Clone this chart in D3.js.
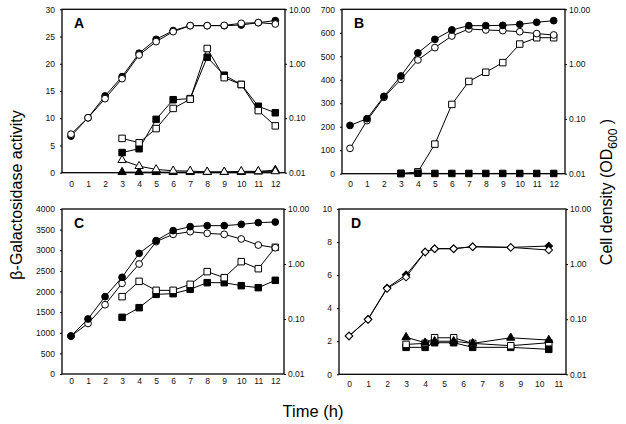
<!DOCTYPE html>
<html>
<head>
<meta charset="utf-8">
<script src="https://cdn.jsdelivr.net/npm/d3@7"></script>
<style>
  body { margin: 0; background: #fff; }
  svg { font-family: "Liberation Sans", Arial, sans-serif; }
</style>
</head>
<body>
<svg id="chart" width="626" height="424"></svg>
<script>
// growth (OD600, right log axis) and beta-galactosidase activity (left axis)
const hours = [0, 1, 2, 3, 4, 5, 6, 7, 8, 9, 10, 11, 12];
const hoursLate = [3, 4, 5, 6, 7, 8, 9, 10, 11, 12];

const odFilledA = [0.047, 0.102, 0.256, 0.58, 1.56, 2.81, 4.06, 5.01, 5.01, 5.0, 5.15, 5.69, 6.2];
const odOpenA = [0.051, 0.102, 0.229, 0.533, 1.45, 2.55, 3.89, 5.01, 5.01, 5.07, 5.53, 5.69, 5.38];
const actOpenSqA = [6.3, 5.5, 8.1, 11.8, 13.5, 22.8, 17.45, 16.2, 11.4, 8.6];
const actFilledSqA = [3.7, 4.4, 9.8, 13.4, 13.6, 21.2, 17.9, 16.2, 12.2, 11.0];
const actOpenTriA = [2.3, 1.2, 0.6, 0.35, 0.3, 0.15, 0.15, 0.25, 0.25, 0.25];
const actFilledTriA = [0.1, 0.1, 0.1, 0.1, 0.1, 0.1, 0.1, 0.1, 0.2, 0.5];

const odFilledB = [0.076, 0.101, 0.258, 0.607, 1.6, 2.83, 4.2, 5.03, 5.03, 5.1, 5.32, 5.8, 6.2];
const odOpenB = [0.029, 0.093, 0.247, 0.527, 1.19, 2.0, 3.26, 4.37, 4.2, 4.08, 3.9, 3.6, 3.4];
const actOpenSqB = [0, 8, 126, 295, 393, 432, 473, 552, 579, 579];
const actFilledSqB = [2, 2, 1, 1, 1, 1, 1, 1, 1, 1];

const odFilledC = [0.049, 0.1, 0.255, 0.573, 1.56, 2.66, 4.04, 4.78, 4.98, 4.98, 5.26, 5.65, 5.8];
const odOpenC = [0.049, 0.083, 0.182, 0.445, 1.0, 2.55, 3.46, 3.87, 3.61, 3.46, 2.85, 2.21, 1.98];
const actOpenSqC = [1875, 2246, 2028, 2028, 2174, 2481, 2335, 2723, 2553, 3071];
const actFilledSqC = [1374, 1608, 1931, 1947, 2053, 2214, 2214, 2141, 2093, 2271];

const hoursD = [0, 1, 2, 3, 4, 4.5, 5.5, 6.5, 8.5, 10.5];
const hoursLateD = [3, 4, 4.5, 5.5, 6.5, 8.5, 10.5];
const odFilledD = [0.0495, 0.1, 0.37, 0.64, 1.66, 1.905, 1.905, 2.07, 2.01, 2.13];
const odOpenD = [0.0495, 0.099, 0.36, 0.58, 1.66, 1.905, 1.905, 2.07, 2.01, 1.8];
const actFilledTriD = [2.24, 1.91, 2.0, 2.0, 1.87, 2.21, 2.07];
const actOpenSqD = [1.81, 1.87, 2.21, 2.21, 1.87, 1.73, 1.91];
const actFilledSqD = [1.63, 1.63, 1.91, 1.91, 1.63, 1.63, 1.51];

const odTicks = [0.01, 0.1, 1, 10];

const svg = d3.select("#chart");

const symbols = {
  circle: { type: d3.symbolCircle, size: 36 },
  square: { type: d3.symbolSquare, size: 42 },
  triangle: { type: d3.symbolTriangle, size: 30 },
  diamond: { type: d3.symbolSquare, size: 28, rotate: 45 },
};

function drawPanel(p) {
  const g = svg.append("g");
  const x = d3.scaleLinear().domain([0, p.xMax]).range(p.xRange);
  const yL = d3.scaleLinear().domain([0, p.yMax]).range([p.y1, p.y0]);
  const yR = d3.scaleLog().domain([0.01, 10]).range([p.y1, p.y0]);

  // frame
  g.append("rect")
    .attr("x", p.x0).attr("y", p.y0)
    .attr("width", p.x1 - p.x0).attr("height", p.y1 - p.y0)
    .attr("fill", "none").attr("stroke", "#000").attr("stroke-width", 1.3);

  const xAxis = g.append("g")
    .attr("transform", `translate(0,${p.y1})`)
    .call(d3.axisBottom(x).tickValues(d3.range(0, p.xMax + 1)).tickSize(0).tickPadding(p.xPad));
  const yAxisL = g.append("g")
    .attr("transform", `translate(${p.x0},0)`)
    .call(d3.axisLeft(yL).tickValues(d3.range(0, p.yMax + p.yStep / 2, p.yStep))
      .tickFormat(d3.format("d")).tickSize(2).tickPadding(5));
  const yAxisR = g.append("g")
    .attr("transform", `translate(${p.x1},0)`)
    .call(d3.axisRight(yR).tickValues(odTicks).tickFormat(d3.format(".2f")).tickSize(2).tickPadding(2));

  [xAxis, yAxisL, yAxisR].forEach((a) => {
    a.select(".domain").remove();
    a.selectAll("text").attr("font-size", 8.5).attr("fill", "#111");
  });

  g.append("text")
    .attr("x", p.x0 + 17).attr("y", p.y0 + 19)
    .attr("text-anchor", "middle")
    .attr("font-size", 14).attr("font-weight", "bold")
    .text(p.label);

  p.series.forEach((s) => {
    const y = s.axis === "od" ? yR : yL;
    const pts = s.t.map((t, i) => [x(t), y(s.v[i])]);
    g.append("path")
      .attr("d", d3.line()(pts))
      .attr("fill", "none").attr("stroke", "#000").attr("stroke-width", 1);
    const sym = symbols[s.shape];
    g.selectAll(null).data(pts).enter().append("path")
      .attr("d", d3.symbol().type(sym.type).size(sym.size))
      .attr("transform", (d) => `translate(${d[0]},${d[1]})` + (sym.rotate ? ` rotate(${sym.rotate})` : ""))
      .attr("fill", s.filled ? "#000" : "#fff")
      .attr("stroke", "#000").attr("stroke-width", 1);
  });
}

drawPanel({
  label: "A", x0: 62, x1: 285, y0: 9.3, y1: 172.7, xRange: [71, 275.3], xMax: 12, xPad: 8,
  yMax: 30, yStep: 5,
  series: [
    { t: hoursLate, v: actFilledTriA, axis: "act", shape: "triangle", filled: true },
    { t: hoursLate, v: actOpenTriA, axis: "act", shape: "triangle", filled: false },
    { t: hoursLate, v: actFilledSqA, axis: "act", shape: "square", filled: true },
    { t: hoursLate, v: actOpenSqA, axis: "act", shape: "square", filled: false },
    { t: hours, v: odFilledA, axis: "od", shape: "circle", filled: true },
    { t: hours, v: odOpenA, axis: "od", shape: "circle", filled: false },
  ],
});

drawPanel({
  label: "B", x0: 342, x1: 565, y0: 9.3, y1: 173.7, xRange: [350, 553.7], xMax: 12, xPad: 7,
  yMax: 700, yStep: 100,
  series: [
    { t: hoursLate, v: actOpenSqB, axis: "act", shape: "square", filled: false },
    { t: hoursLate, v: actFilledSqB, axis: "act", shape: "square", filled: true },
    { t: hours, v: odOpenB, axis: "od", shape: "circle", filled: false },
    { t: hours, v: odFilledB, axis: "od", shape: "circle", filled: true },
  ],
});

drawPanel({
  label: "C", x0: 62, x1: 284, y0: 209, y1: 374, xRange: [71, 275.3], xMax: 12, xPad: 4,
  yMax: 4000, yStep: 500,
  series: [
    { t: hoursLate, v: actFilledSqC, axis: "act", shape: "square", filled: true },
    { t: hoursLate, v: actOpenSqC, axis: "act", shape: "square", filled: false },
    { t: hours, v: odOpenC, axis: "od", shape: "circle", filled: false },
    { t: hours, v: odFilledC, axis: "od", shape: "circle", filled: true },
  ],
});

drawPanel({
  label: "D", x0: 339, x1: 566, y0: 209, y1: 374.3, xRange: [349, 558.3], xMax: 11, xPad: 7,
  yMax: 10, yStep: 2,
  series: [
    { t: hoursLateD, v: actFilledSqD, axis: "act", shape: "square", filled: true },
    { t: hoursLateD, v: actOpenSqD, axis: "act", shape: "square", filled: false },
    { t: hoursLateD, v: actFilledTriD, axis: "act", shape: "triangle", filled: true },
    { t: hoursD, v: odFilledD, axis: "od", shape: "diamond", filled: true },
    { t: hoursD, v: odOpenD, axis: "od", shape: "diamond", filled: false },
  ],
});

// axis titles
svg.append("text")
  .attr("transform", "translate(22,195) rotate(-90)")
  .attr("text-anchor", "middle")
  .attr("font-size", 16)
  .text("β-Galactosidase activity");

const right = svg.append("text")
  .attr("transform", "translate(612,192) rotate(-90)")
  .attr("text-anchor", "middle")
  .attr("font-size", 16);
right.append("tspan").text("Cell density (OD");
right.append("tspan").attr("font-size", 12).attr("dy", 5).text("600");
right.append("tspan").attr("dy", -5).text(" )");

svg.append("text")
  .attr("x", 313).attr("y", 417)
  .attr("text-anchor", "middle")
  .attr("font-size", 16.5).attr("font-weight", "normal")
  .text("Time (h)");
</script>
</body>
</html>
